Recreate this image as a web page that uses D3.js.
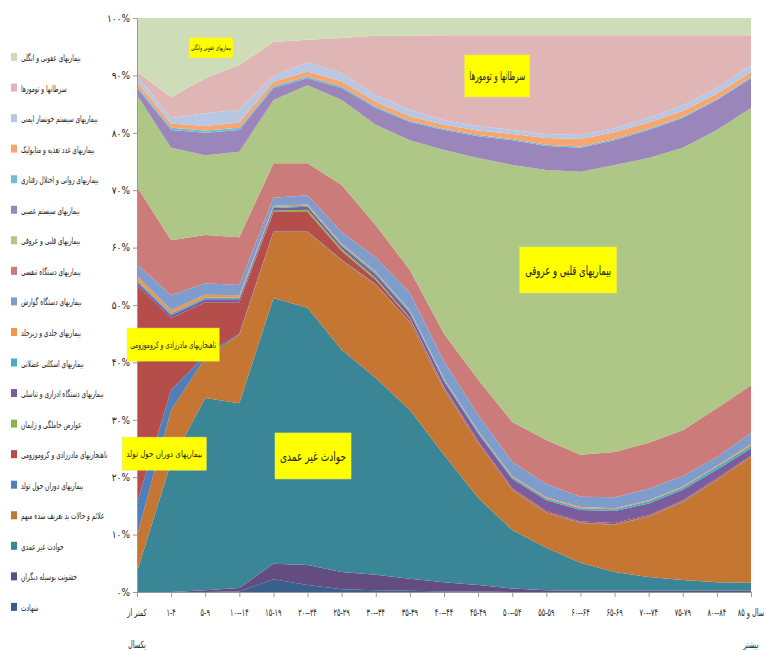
<!DOCTYPE html>
<html>
<head>
<meta charset="utf-8">
<script src="https://cdn.jsdelivr.net/npm/d3@7.9.0/dist/d3.min.js"></script>
<style>
  body { margin: 0; background: #fff; }
  svg { display: block; }
  text { font-family: "DejaVu Sans Condensed", "DejaVu Sans", sans-serif; fill: #222; }
</style>
</head>
<body>
<svg id="chart" width="766" height="650"></svg>
<script>
// age groups (x categories)
const ageGroups = ['<1', '1-4', '5-9', '10-14', '15-19', '20-24', '25-29', '30-34', '35-39',
  '40-44', '45-49', '50-54', '55-59', '60-64', '65-69', '70-74', '75-79', '80-84', '85+'];
const ageLabels = [['کمتر از', 'یکسال'], ['۱-۴'], ['۵-۹'], ['۱۰--۱۴'], ['۱۵-۱۹'], ['۲۰--۲۴'],
  ['۲۵-۲۹'], ['۳۰--۳۴'], ['۳۵-۳۹'], ['۴۰--۴۴'], ['۴۵-۴۹'], ['۵۰--۵۴'], ['۵۵-۵۹'], ['۶۰--۶۴'],
  ['۶۵-۶۹'], ['۷۰--۷۴'], ['۷۵-۷۹'], ['۸۰--۸۴'], ['۸۵ سال و', 'بیشتر']];
const yTickLabels = ['۰%', '۱۰%', '۲۰%', '۳۰%', '۴۰%', '۵۰%', '۶۰%', '۷۰%', '۸۰%', '۹۰%', '۱۰۰%'];

// share of deaths (%) per cause, bottom of the stack first
const martyrdom       = [0, 0, 0, 0.1, 2.2, 1.2, 0.5, 0.3, 0.2, 0.1, 0.1, 0, 0, 0, 0, 0, 0, 0, 0];
const violence        = [0, 0, 0.3, 0.6, 2.7, 3.5, 3.0, 2.7, 2.1, 1.6, 1.1, 0.6, 0.3, 0.2, 0.2, 0.2, 0.2, 0.2, 0.2];
const accidents       = [3.5, 22.6, 33.5, 32.2, 46.3, 44.8, 38.7, 34.3, 29.4, 22.2, 15.2, 10.2, 7.4, 4.9, 3.3, 2.4, 1.9, 1.5, 1.4];
const illDefined      = [6.3, 9.1, 7.0, 11.9, 11.5, 13.2, 15.6, 16.2, 15.3, 11.3, 9.6, 7.0, 6.1, 6.9, 8.2, 10.5, 13.6, 17.8, 21.9];
const perinatal       = [5.7, 3.5, 0.5, 0.2, 0.1, 0.1, 0.1, 0.1, 0.1, 0.1, 0.1, 0.1, 0.1, 0.1, 0.1, 0.1, 0.1, 0.1, 0.1];
const congenital      = [38.0, 12.5, 9.2, 5.5, 3.4, 3.4, 1.5, 0.8, 0.5, 0.3, 0.2, 0.2, 0.2, 0.2, 0.2, 0.2, 0.2, 0.2, 0.2];
const pregnancy       = [0, 0, 0, 0, 0.2, 0.4, 0.4, 0.3, 0.2, 0.1, 0, 0, 0, 0, 0, 0, 0, 0, 0];
const genitourinary   = [0.5, 0.5, 0.5, 0.5, 0.5, 0.5, 0.5, 0.6, 0.8, 1.0, 1.3, 1.6, 1.9, 2.0, 2.1, 2.0, 1.8, 1.5, 1.2];
const musculoskeletal = [0.3, 0.3, 0.3, 0.3, 0.2, 0.2, 0.2, 0.3, 0.3, 0.3, 0.3, 0.3, 0.3, 0.3, 0.3, 0.4, 0.4, 0.5, 0.5];
const skin            = [0.8, 0.6, 0.5, 0.4, 0.2, 0.2, 0.2, 0.2, 0.2, 0.2, 0.2, 0.2, 0.2, 0.2, 0.2, 0.2, 0.2, 0.2, 0.3];
const digestive       = [2.0, 2.6, 2.0, 1.8, 1.4, 1.6, 2.0, 2.5, 3.0, 3.0, 2.8, 2.5, 2.3, 1.8, 1.9, 2.0, 1.8, 1.5, 1.9];
const respiratory     = [13.5, 9.6, 8.4, 8.3, 6.0, 5.6, 8.2, 5.6, 4.0, 4.8, 6.1, 6.9, 7.7, 7.3, 7.9, 8.0, 8.0, 8.5, 8.3];
const cardiovascular  = [16.0, 16.1, 13.9, 14.9, 11.0, 13.6, 14.8, 17.5, 22.6, 32.0, 38.6, 44.8, 47.0, 49.3, 50.0, 49.6, 49.2, 48.5, 48.3];
const nervous         = [1.2, 3.1, 3.9, 3.8, 2.1, 1.2, 2.1, 2.9, 3.2, 3.5, 3.8, 4.3, 4.2, 4.2, 4.3, 4.9, 5.2, 5.2, 5.2];
const mental          = [0.3, 0.4, 0.4, 0.4, 0.3, 0.3, 0.3, 0.3, 0.2, 0.2, 0.2, 0.2, 0.2, 0.2, 0.2, 0.2, 0.2, 0.2, 0.2];
const endocrine       = [0.8, 0.7, 0.8, 0.9, 0.8, 0.9, 0.9, 0.8, 0.8, 0.7, 0.8, 0.9, 1.2, 1.3, 1.2, 1.1, 1.0, 0.9, 0.9];
const blood           = [1.0, 1.0, 2.2, 2.2, 1.0, 1.6, 1.4, 1.2, 1.1, 0.8, 0.8, 0.7, 0.7, 0.7, 0.7, 0.8, 1.0, 1.0, 1.2];
const cancers         = [0.7, 3.6, 6.1, 7.8, 5.9, 3.9, 6.1, 10.3, 12.9, 14.8, 15.8, 16.5, 17.2, 17.4, 16.2, 14.4, 12.2, 9.2, 5.2];
const infectious      = [9.4, 13.8, 10.5, 8.2, 4.2, 3.8, 3.5, 3.1, 3.1, 3.0, 3.0, 3.0, 3.0, 3.0, 3.0, 3.0, 3.0, 3.0, 3.0];

const series = [
  { name: 'شهادت', values: martyrdom, color: '#3b5f8c' },
  { name: 'خشونت بوسیله دیگران', values: violence, color: '#634d80' },
  { name: 'حوادث غیر عمدی', values: accidents, color: '#3a8697' },
  { name: 'علائم و حالات بد تعریف شده مبهم', values: illDefined, color: '#c57633' },
  { name: 'بیماریهای دوران حول تولد', values: perinatal, color: '#4f7fbb' },
  { name: 'ناهنجاریهای مادرزادی و کروموزومی', values: congenital, color: '#b54d4a' },
  { name: 'عوارض حاملگی و زایمان', values: pregnancy, color: '#8bb04c' },
  { name: 'بیماریهای دستگاه ادراری و تناسلی', values: genitourinary, color: '#7b5d9e' },
  { name: 'بیماریهای اسکلتی عضلانی', values: musculoskeletal, color: '#4aabc6' },
  { name: 'بیماریهای جلدی و زیرجلد', values: skin, color: '#f39447' },
  { name: 'بیماریهای دستگاه گوارش', values: digestive, color: '#7e9dcc' },
  { name: 'بیماریهای دستگاه تنفسی', values: respiratory, color: '#cb7c7a' },
  { name: 'بیماریهای قلبی و عروقی', values: cardiovascular, color: '#aec686' },
  { name: 'بیماریهای سیستم عصبی', values: nervous, color: '#9b86bb' },
  { name: 'بیماریهای روانی و اختلال رفتاری', values: mental, color: '#6fbcd3' },
  { name: 'بیماریهای غدد تغذیه و متابولیک', values: endocrine, color: '#f7a66f' },
  { name: 'بیماریهای سیستم خونساز ایمنی', values: blood, color: '#b8c7e4' },
  { name: 'سرطانها و تومورها', values: cancers, color: '#e0b5b5' },
  { name: 'بیماریهای عفونی و انگلی', values: infectious, color: '#cfdcb8' }
];

// yellow call-outs: [text, category position, percent, box w, box h, text w, font size]
const notes = [
  ['بیماریهای عفونی وانگلی', 2.17, 94.8, 44, 20, 40, 7],
  ['سرطانها و تومورها', 10.56, 89.9, 65, 42, 56, 12],
  ['بیماریهای قلبی و عروقی', 12.64, 56.1, 97, 46, 86, 13],
  ['حوادث غیر عمدی', 5.16, 23.7, 76, 46, 66, 13],
  ['ناهنجاریهای مادرزادی و کروموزومی', 1.06, 43.1, 92, 33, 86, 9],
  ['بیماریهای دوران حول تولد', 0.8, 24.1, 84, 33, 76, 9]
];

const svg = d3.select('#chart');
const x = d3.scalePoint().domain(ageGroups).range([137, 751]);
const xPos = d3.scaleLinear().domain([0, ageGroups.length - 1]).range([137, 751]);
const y = d3.scaleLinear().domain([0, 1]).range([592, 18]);

const rows = ageGroups.map((g, i) => {
  const r = { age: g };
  series.forEach((s, k) => { r[k] = s.values[i]; });
  return r;
});
const stacked = d3.stack()
  .keys(series.map((s, k) => k))
  .offset(d3.stackOffsetExpand)(rows);

const area = d3.area()
  .x(d => x(d.data.age))
  .y0(d => y(d[0]))
  .y1(d => y(d[1]));

svg.append('g')
  .selectAll('path')
  .data(stacked)
  .enter()
  .append('path')
  .attr('d', area)
  .attr('fill', d => series[d.key].color);

// axes
const yAxis = svg.append('g')
  .attr('transform', 'translate(137,0)')
  .call(d3.axisLeft(y).tickValues(d3.range(0, 1.01, 0.1)).tickSize(4)
    .tickFormat((d, i) => yTickLabels[i]));
yAxis.select('.domain').attr('stroke', '#999');
yAxis.selectAll('line').attr('stroke', '#999');
yAxis.selectAll('text').attr('font-size', 10).attr('fill', '#222').attr('x', -7);

const xAxis = svg.append('g')
  .attr('transform', 'translate(0,592)')
  .call(d3.axisBottom(x).tickSize(5).tickSizeOuter(0).tickFormat(''));
xAxis.select('.domain').attr('stroke', '#999');
xAxis.selectAll('line').attr('stroke', '#999');

const xl = svg.append('g');
ageGroups.forEach((g, i) => {
  ageLabels[i].forEach((line, j) => {
    xl.append('text')
      .attr('transform', `translate(${x(g)},${616 + j * 32}) scale(0.72,1)`)
      .attr('text-anchor', 'middle')
      .attr('font-size', 10)
      .attr('fill', '#222')
      .text(line);
  });
});

// legend, top of the stack first
const legend = svg.append('g');
series.slice().reverse().forEach((s, i) => {
  const ly = 58 + i * 30.55;
  legend.append('rect')
    .attr('x', 11).attr('y', ly - 5).attr('width', 6).attr('height', 8)
    .attr('fill', s.color);
  legend.append('text')
    .attr('transform', `translate(21,${ly + 3}) scale(0.7,1)`)
    .attr('font-size', 9.3)
    .attr('fill', '#111')
    .text(s.name);
});

// call-outs
const callouts = svg.append('g');
notes.forEach(([label, pos, pct, bw, bh, tw, fs]) => {
  const cx = xPos(pos), cy = y(pct / 100);
  callouts.append('rect')
    .attr('x', cx - bw / 2).attr('y', cy - bh / 2)
    .attr('width', bw).attr('height', bh)
    .attr('fill', '#ffff00')
    .attr('stroke', '#e8e85a').attr('stroke-width', 0.6);
  callouts.append('text')
    .attr('x', cx).attr('y', cy + fs * 0.35)
    .attr('text-anchor', 'middle')
    .attr('font-size', fs)
    .attr('fill', '#111')
    .attr('textLength', tw)
    .attr('lengthAdjust', 'spacingAndGlyphs')
    .text(label);
});
</script>
</body>
</html>
